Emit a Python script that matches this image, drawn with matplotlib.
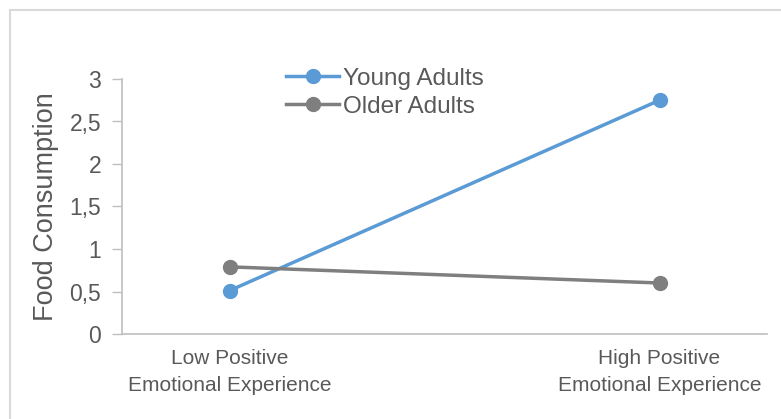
import matplotlib.pyplot as plt
from matplotlib.patches import Rectangle

# data
categories = ['Low Positive\nEmotional Experience', 'High Positive\nEmotional Experience']
young_adults = [0.51, 2.75]
older_adults = [0.79, 0.60]
y_ticks = [0, 0.5, 1, 1.5, 2, 2.5, 3]
y_tick_labels = ['0', '0,5', '1', '1,5', '2', '2,5', '3']

TEXT = '#595959'
AXIS = '#bfbfbf'
BLUE = '#5b9bd5'
GREY = '#7f7f7f'

plt.rcParams['font.family'] = ['Liberation Sans', 'DejaVu Sans']

fig = plt.figure(figsize=(7.81, 4.19), dpi=100)
ax = fig.add_axes([122 / 781, 1 - 334 / 419, (767 - 122) / 781, (334 - 79) / 419])

# light frame around the chart area (only top and left visible in the crop)
fig.patches.append(Rectangle((10 / 781, -0.1), 1.2, 1 - 10 / 419 + 0.1,
                             transform=fig.transFigure, fill=False,
                             edgecolor='#d9d9d9', linewidth=1.5))

x = list(range(len(categories)))
ax.plot(x, young_adults, color=BLUE, linewidth=2.5, marker='o', markersize=10,
        label='Young Adults', zorder=3)
ax.plot(x, older_adults, color=GREY, linewidth=2.5, marker='o', markersize=10,
        label='Older Adults', zorder=3)

ax.set_xlim(-0.25, 1.25)
ax.set_ylim(0, 3)
ax.set_xticks(x)
ax.set_xticklabels(categories, fontsize=15, color=TEXT, linespacing=1.5)
ax.set_yticks(y_ticks)
ax.set_yticklabels(y_tick_labels, fontsize=16.5, color=TEXT)
ax.tick_params(axis='x', length=0, pad=11)
ax.tick_params(axis='y', length=7, width=1, color=AXIS, pad=8)

for side in ['top', 'right']:
    ax.spines[side].set_visible(False)
for side in ['left', 'bottom']:
    ax.spines[side].set_color(AXIS)
    ax.spines[side].set_linewidth(1.2)

ax.set_ylabel('Food Consumption', fontsize=19.5, color=TEXT)
ax.yaxis.set_label_coords(-(122 - 59) / 645, 0.5)

leg = ax.legend(loc='upper left', bbox_to_anchor=(0.22, 1.13), frameon=False,
                fontsize=17.5, handlelength=2.2, handletextpad=0.15,
                labelspacing=0.25, labelcolor=TEXT)

fig.savefig('out.png', dpi=100)
